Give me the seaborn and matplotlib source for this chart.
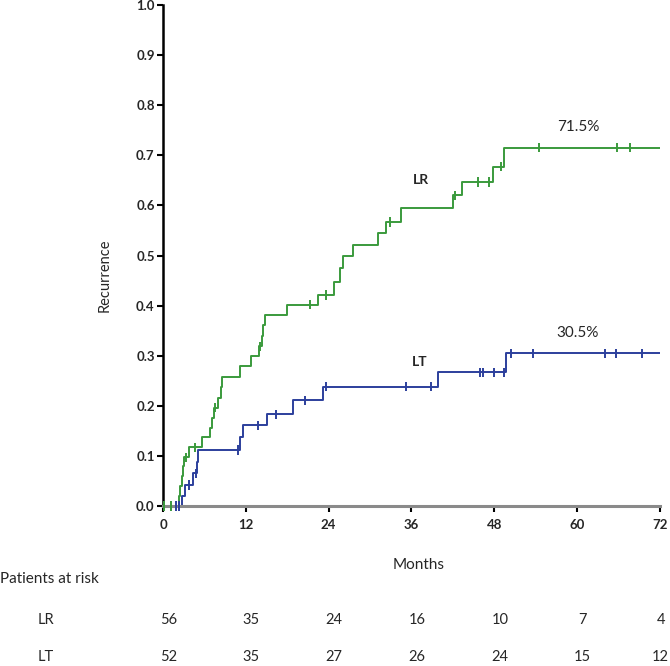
import numpy as np
import pandas as pd
import matplotlib
matplotlib.use("Agg")
import matplotlib.pyplot as plt
import matplotlib.transforms as mtransforms
import seaborn as sns

# ---------------- data ----------------
groups = ["LR", "LT"]
# LR (green) step times (months) and cumulative recurrence after each step
lr_times = [0, 2.3, 2.5, 2.7, 2.9, 3.1, 3.8, 5.6, 6.8, 7.1, 7.4, 8.0, 8.4, 8.6,
            11.2, 12.8, 13.9, 14.3, 14.5, 14.8, 17.9, 22.4, 24.8, 25.7, 26.1,
            27.5, 31.1, 32.3, 34.5, 42.0, 43.3, 47.8, 49.4, 72]
lr_values = [0, 0.02, 0.04, 0.06, 0.08, 0.097, 0.117, 0.137, 0.155, 0.175, 0.196,
             0.216, 0.238, 0.258, 0.279, 0.300, 0.319, 0.340, 0.362, 0.382, 0.402,
             0.421, 0.448, 0.475, 0.499, 0.521, 0.545, 0.567, 0.594, 0.620, 0.647,
             0.677, 0.715, 0.715]
lr_censored = [0.1, 1.2, 3.3, 4.7, 7.6, 14.1, 21.3, 23.6, 32.9, 42.3, 45.6, 47.2,
               48.9, 54.5, 65.8, 67.7]

# LT (blue)
lt_times = [0, 2.7, 3.2, 4.4, 4.95, 5.1, 11.2, 11.6, 15.1, 18.9, 23.2, 39.8, 49.7, 72]
lt_values = [0, 0.02, 0.042, 0.065, 0.087, 0.112, 0.137, 0.161, 0.183, 0.211,
             0.238, 0.267, 0.305, 0.305]
lt_censored = [1.9, 2.3, 3.8, 4.8, 10.8, 13.8, 16.3, 20.6, 23.6, 35.2, 38.8, 45.9,
               46.4, 48.0, 49.4, 50.4, 53.6, 64.0, 65.7, 69.4]

final_labels = ["71.5%", "30.5%"]
x_ticks = [0, 12, 24, 36, 48, 60, 72]
y_ticks = [0.0, 0.1, 0.2, 0.3, 0.4, 0.5, 0.6, 0.7, 0.8, 0.9, 1.0]
risk_lr = [56, 35, 24, 16, 10, 7, 4]
risk_lt = [52, 35, 27, 26, 24, 15, 12]

colors = {"LR": "#3a9a3c", "LT": "#2c3f9c"}

# ---------------- build tables ----------------
curves = pd.DataFrame({
    "t": lr_times + lt_times,
    "v": lr_values + lt_values,
    "group": ["LR"] * len(lr_times) + ["LT"] * len(lt_times),
})


def level_at(times, values, ts):
    idx = np.searchsorted(np.array(times), np.array(ts), side="right") - 1
    return np.array(values)[idx]


cens = pd.DataFrame({
    "t": lr_censored + lt_censored,
    "v": list(level_at(lr_times, lr_values, lr_censored)) +
         list(level_at(lt_times, lt_values, lt_censored)),
    "group": ["LR"] * len(lr_censored) + ["LT"] * len(lt_censored),
})

# ---------------- plot ----------------
sns.set_theme(style="white")
plt.rcParams["font.family"] = ["Lato", "DejaVu Sans"]

fig = plt.figure(figsize=(6.70, 6.66), dpi=100)
ax = fig.add_axes([0.2433, 0.2402, 0.7417, 0.7523])

sns.lineplot(data=curves, x="t", y="v", hue="group", palette=colors,
             drawstyle="steps-post", estimator=None, linewidth=1.4,
             legend=False, ax=ax)
sns.scatterplot(data=cens, x="t", y="v", hue="group", palette=colors,
                marker="|", s=45, linewidth=1.4, legend=False, ax=ax,
                clip_on=False, zorder=5)

ax.set_xlim(0, 72)
ax.set_ylim(0, 1.0)
ax.set_xticks(x_ticks)
ax.set_yticks(y_ticks)
ax.set_xticklabels([str(v) for v in x_ticks], fontweight="bold", fontsize=9.5)
ax.set_yticklabels([f"{v:.1f}" for v in y_ticks], fontweight="bold", fontsize=9.5)
ax.set_xlabel("Months", fontsize=11)
ax.set_ylabel("Recurrence", fontsize=10.5)
ax.xaxis.set_label_coords(0.515, -0.104)
ax.yaxis.set_label_coords(-0.103, 0.46)

for s in ["top", "right"]:
    ax.spines[s].set_visible(False)
ax.spines["left"].set_color("black")
ax.spines["left"].set_linewidth(1.8)
ax.spines["bottom"].set_color("#8a8a8a")
ax.spines["bottom"].set_linewidth(2.2)
ax.tick_params(axis="x", direction="out", length=4, width=1.5,
               color="black", pad=5, bottom=True)
ax.tick_params(axis="y", direction="out", length=4, width=1.5,
               color="black", pad=2, left=True)

# curve annotations
ax.text(37.3, 0.651, "LR", fontsize=10, fontweight="bold", ha="center", va="center")
ax.text(37.2, 0.287, "LT", fontsize=10, fontweight="bold", ha="center", va="center")
ax.text(60.1, 0.757, final_labels[0], fontsize=11, ha="center", va="center")
ax.text(60.1, 0.346, final_labels[1], fontsize=11, ha="center", va="center")

# risk table
trans = mtransforms.blended_transform_factory(ax.transData, fig.transFigure)
fig.text(0.0, 1 - 579 / 666, "Patients at risk", fontsize=11, ha="left", va="center")
fig.text(46 / 670, 1 - 620 / 666, "LR", fontsize=10.5, ha="center", va="center")
fig.text(46 / 670, 1 - 657 / 666, "LT", fontsize=10.5, ha="center", va="center")
for i, (xt, a, b) in enumerate(zip(x_ticks, risk_lr, risk_lt)):
    off = 0.8 if i < len(x_ticks) - 1 else 0.1
    ax.text(xt + off, 1 - 620 / 666, str(a), fontsize=10.5, ha="center", va="center",
            transform=trans)
    ax.text(xt + off, 1 - 657 / 666, str(b), fontsize=10.5, ha="center", va="center",
            transform=trans)

fig.savefig("out.png", dpi=100, facecolor="white")
